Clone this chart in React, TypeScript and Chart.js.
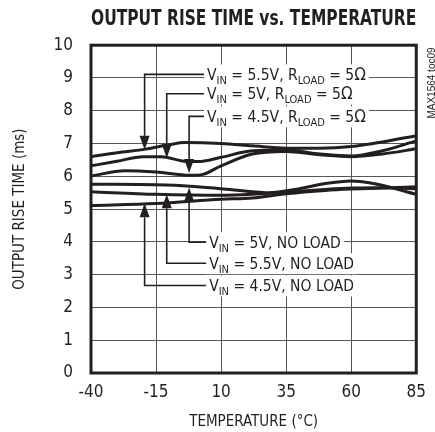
import React, { useEffect, useRef } from 'react';
import { Chart, registerables } from 'chart.js';

Chart.register(...registerables);

const FONT = "'Liberation Sans Narrow', 'DejaVu Sans Condensed', 'Arial Narrow', sans-serif";
const INK = '#231f20';
const GRID = '#555555';

const TITLE = 'OUTPUT RISE TIME vs. TEMPERATURE';
const X_TITLE = 'TEMPERATURE (°C)';
const Y_TITLE = 'OUTPUT RISE TIME (ms)';
const SIDE_TAG = 'MAX1564 toc09';

const xTicks = [-40, -15, 10, 35, 60, 85];
const yTicks = [0, 1, 2, 3, 4, 5, 6, 7, 8, 9, 10];

// R_LOAD = 5 ohm
const load55Temp = [-40, -30, -19, -10, -4, 10, 22, 35, 48, 60, 72, 85];
const load55Time = [6.6, 6.72, 6.83, 6.96, 7.03, 7.0, 6.93, 6.86, 6.86, 6.91, 7.05, 7.24];
const load50Temp = [-40, -30, -20, -13, -5, 1, 10, 22, 35, 48, 60, 72, 85];
const load50Time = [6.32, 6.46, 6.6, 6.6, 6.47, 6.45, 6.58, 6.78, 6.8, 6.68, 6.62, 6.78, 7.08];
const load45Temp = [-40, -27, -15, -2, 3, 10, 22, 35, 48, 60, 72, 85];
const load45Time = [6.01, 6.17, 6.13, 6.03, 6.06, 6.32, 6.68, 6.76, 6.66, 6.6, 6.68, 6.84];

// No load
const nl50Temp = [-40, -15, -2, 10, 22, 28, 40, 50, 60, 70, 85];
const nl50Time = [5.76, 5.74, 5.7, 5.62, 5.53, 5.5, 5.62, 5.78, 5.86, 5.76, 5.45];
const nl55Temp = [-40, -15, 10, 22, 35, 50, 60, 72, 85];
const nl55Time = [5.53, 5.45, 5.42, 5.45, 5.52, 5.6, 5.64, 5.65, 5.62];
const nl45Temp = [-40, -15, 10, 22, 35, 50, 60, 72, 85];
const nl45Time = [5.11, 5.17, 5.3, 5.34, 5.47, 5.57, 5.61, 5.64, 5.68];

// Callouts (text, arrow temperature, arrow tip value, leader level value)
const calloutText = [
  'V_IN = 5.5V, R_LOAD = 5Ω',
  'V_IN = 5V, R_LOAD = 5Ω',
  'V_IN = 4.5V, R_LOAD = 5Ω',
  'V_IN = 5V, NO LOAD',
  'V_IN = 5.5V, NO LOAD',
  'V_IN = 4.5V, NO LOAD',
];
const calloutArrowX = [-19.4, -10.9, -2.3, -2.3, -10.9, -19.4];
const calloutTip = [6.81, 6.56, 6.1, 5.66, 5.45, 5.18];
const calloutLevel = [9.11, 8.52, 7.83, 3.99, 3.35, 2.67];
const calloutTextX = [4.6, 4.6, 4.6, 5.4, 5.4, 5.4];

const MAIN_SIZE = 15.5;
const SUB_SIZE = 11;

function richText(ctx: CanvasRenderingContext2D, text: string, x: number, baseline: number, draw: boolean): number {
  const parts = text.split(/(_[A-Z]+|Ω)/).filter(Boolean);
  let cx = x;
  for (const p of parts) {
    const sub = p.startsWith('_');
    const omega = p === 'Ω';
    const s = sub ? p.slice(1) : p;
    ctx.font = omega ? `17px ${FONT}` : `${sub ? SUB_SIZE : MAIN_SIZE}px ${FONT}`;
    if (draw) ctx.fillText(s, cx, baseline + (sub ? 4 : 0));
    cx += ctx.measureText(s).width;
  }
  return cx - x;
}

const calloutPlugin = {
  id: 'callouts',
  beforeDatasetsDraw(chart: any) {
    const { ctx, scales } = chart;
    const xs = scales.x;
    const ys = scales.y;
    ctx.save();
    ctx.textBaseline = 'alphabetic';
    ctx.textAlign = 'left';
    const items = calloutText.map((t, i) => ({
      text: t,
      ax: xs.getPixelForValue(calloutArrowX[i]),
      tipY: ys.getPixelForValue(calloutTip[i]),
      lvY: ys.getPixelForValue(calloutLevel[i]),
      tx: xs.getPixelForValue(calloutTextX[i]),
      w: richText(ctx, t, 0, 0, false),
    }));
    // white backgrounds first
    ctx.fillStyle = '#ffffff';
    for (const it of items) ctx.fillRect(it.tx - 3, it.lvY - 10, it.w + 6, 21);
    for (const it of items) {
      const s = Math.sign(it.lvY - it.tipY);
      const baseY = it.tipY + s * 14;
      ctx.strokeStyle = INK;
      ctx.lineWidth = 1.6;
      ctx.beginPath();
      ctx.moveTo(it.ax, baseY);
      ctx.lineTo(it.ax, it.lvY);
      ctx.lineTo(it.tx - 3, it.lvY);
      ctx.stroke();
      ctx.fillStyle = INK;
      ctx.beginPath();
      ctx.moveTo(it.ax, it.tipY);
      ctx.lineTo(it.ax - 5, baseY);
      ctx.lineTo(it.ax + 5, baseY);
      ctx.closePath();
      ctx.fill();
    }
    ctx.fillStyle = INK;
    for (const it of items) richText(ctx, it.text, it.tx, it.lvY + 5.5, true);
    ctx.restore();
  },
  afterDraw(chart: any) {
    const { ctx, chartArea } = chart;
    ctx.save();
    ctx.strokeStyle = INK;
    ctx.lineWidth = 3;
    ctx.strokeRect(chartArea.left, chartArea.top, chartArea.right - chartArea.left, chartArea.bottom - chartArea.top);
    ctx.translate(432, 83);
    ctx.rotate(-Math.PI / 2);
    ctx.fillStyle = INK;
    ctx.font = "10px 'Liberation Sans', Arial, sans-serif";
    ctx.textAlign = 'center';
    ctx.textBaseline = 'middle';
    ctx.fillText(SIDE_TAG, 0, 0);
    ctx.restore();
  },
};

export default function App() {
  const ref = useRef<HTMLCanvasElement>(null);
  useEffect(() => {
    const canvas = ref.current;
    if (!canvas) return;
    const pairs: [number[], number[]][] = [
      [load55Temp, load55Time],
      [load50Temp, load50Time],
      [load45Temp, load45Time],
      [nl50Temp, nl50Time],
      [nl55Temp, nl55Time],
      [nl45Temp, nl45Time],
    ];
    const chart = new Chart(canvas, {
      type: 'line',
      data: {
        datasets: pairs.map(([t, v]) => ({
          data: t.map((x, i) => ({ x, y: v[i] })),
          borderColor: INK,
          borderWidth: 3,
          pointRadius: 0,
          cubicInterpolationMode: 'monotone' as const,
          fill: false,
        })),
      },
      options: {
        responsive: false,
        animation: false,
        layout: { padding: { left: 0, right: 16, top: 0, bottom: 0 } },
        plugins: {
          legend: { display: false },
          tooltip: { enabled: false },
          title: {
            display: true,
            text: TITLE,
            color: INK,
            fullSize: false,
            font: { family: FONT, size: 21, weight: 'bold' },
            padding: { top: 7, bottom: 13 },
          },
        },
        scales: {
          x: {
            type: 'linear',
            min: -40,
            max: 85,
            afterBuildTicks: (s: any) => {
              s.ticks = xTicks.map((v) => ({ value: v }));
            },
            afterFit: (s: any) => {
              s.height = 59;
            },
            ticks: { color: INK, font: { family: FONT, size: 17 }, padding: 9, maxRotation: 0 },
            grid: { color: GRID, lineWidth: 1, drawTicks: false },
            border: { display: false },
            title: { display: true, text: X_TITLE, color: INK, font: { family: FONT, size: 15 }, padding: { top: 0, bottom: 1 } },
          },
          y: {
            type: 'linear',
            min: 0,
            max: 10,
            afterBuildTicks: (s: any) => {
              s.ticks = yTicks.map((v) => ({ value: v }));
            },
            afterFit: (s: any) => {
              s.width = 91;
            },
            ticks: { color: INK, font: { family: FONT, size: 17 }, padding: 18 },
            grid: { color: GRID, lineWidth: 1, drawTicks: false },
            border: { display: false },
            title: { display: true, text: Y_TITLE, color: INK, font: { family: FONT, size: 15 }, padding: { top: 11, bottom: 0 } },
          },
        },
      },
      plugins: [calloutPlugin],
    } as any);
    return () => chart.destroy();
  }, []);
  return (
    <div style={{ position: 'absolute', left: 0, top: 0, width: 435, height: 432, background: '#ffffff' }}>
      <canvas ref={ref} width={435} height={432} style={{ width: 435, height: 432, display: 'block' }} />
    </div>
  );
}
